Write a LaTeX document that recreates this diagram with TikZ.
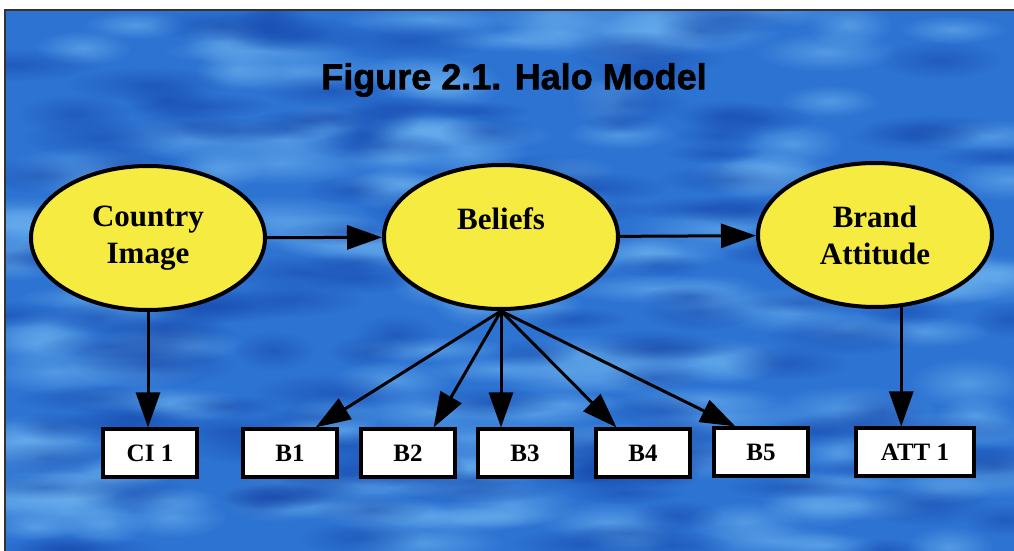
\documentclass[tikz,border=0pt]{standalone}
\usepackage{fontspec}
\setmainfont{Liberation Serif}
\newfontfamily\titlefont{Liberation Sans}[BoldFeatures={FakeBold=1.6}]
\usetikzlibrary{shapes.geometric,arrows.meta,fadings}
\definecolor{bgblue}{RGB}{45,115,210}
\definecolor{bglight}{RGB}{110,180,240}
\definecolor{bgdark}{RGB}{20,68,168}
\definecolor{haloyellow}{RGB}{245,235,65}
\tikzfading[name=softblob,inner color=transparent!0,outer color=transparent!100]
\begin{document}
\begin{tikzpicture}[x=0.5pt,y=-0.5pt,
    latent/.style={ellipse,draw=black,line width=2pt,fill=haloyellow,
      minimum width=117pt,minimum height=72pt,inner sep=0pt,align=center,
      font=\bfseries\fontsize{15.5}{18.5}\selectfont},
    indicator/.style={rectangle,draw=black,line width=1.6pt,fill=white,
      minimum width=47pt,minimum height=24pt,inner sep=0pt,
      font=\bfseries\fontsize{12.5}{14}\selectfont},
    path/.style={line width=1.5pt,-{Triangle[length=17.5pt,width=12pt]}},
    blob/.style={path fading=softblob}]
  \useasboundingbox (0,0) rectangle (1014,551);
  % background panel
  \fill[bgblue] (5,10) rectangle (1014,551);
  \begin{scope}
    \clip (5,10) rectangle (1014,551);
    \pgfmathsetseed{23}
    \foreach \i in {1,...,170} {
      \pgfmathsetmacro{\bx}{5+1009*rnd}
      \pgfmathsetmacro{\by}{10+541*rnd}
      \pgfmathsetmacro{\rx}{40+60*rnd}
      \pgfmathsetmacro{\ry}{12+14*rnd}
      \fill[bglight,opacity=0.6,blob] (\bx,\by) ellipse [x radius=\rx,y radius=\ry];
    }
    \foreach \i in {1,...,140} {
      \pgfmathsetmacro{\bx}{5+1009*rnd}
      \pgfmathsetmacro{\by}{10+541*rnd}
      \pgfmathsetmacro{\rx}{35+50*rnd}
      \pgfmathsetmacro{\ry}{10+12*rnd}
      \fill[bgdark,opacity=0.5,blob] (\bx,\by) ellipse [x radius=\rx,y radius=\ry];
    }
  \end{scope}
  \draw[line width=1pt,black!80] (5,551) -- (5,10) -- (1014,10);
  % title
  \node[font=\titlefont\bfseries\fontsize{18}{20}\selectfont] (title) at (514,80) {Figure 2.1. Halo Model};
  % latent variables
  \node[latent] (ci) at (148,238) {Country\\Image};
  \node[latent] (bel) at (501,237) {Beliefs\\\mbox{}};
  \node[latent] (att) at (875,235) {Brand\\Attitude};
  % indicators
  \node[indicator] (ci1) at (150,453) {CI 1};
  \node[indicator] (b1) at (290,453) {B1};
  \node[indicator] (b2) at (408,453) {B2};
  \node[indicator] (b3) at (525,453) {B3};
  \node[indicator] (b4) at (643,453) {B4};
  \node[indicator] (b5) at (761,452) {B5};
  \node[indicator,minimum width=59pt] (att1) at (915,452) {ATT 1};
  % structural paths
  \draw[path] (ci) -- (bel);
  \draw[path] (bel) -- (att);
  % measurement paths
  \draw[path] (ci.south) -- (ci.south |- ci1.north);
  \draw[path] (bel.south) -- (b1.45);
  \draw[path] (bel.south) -- (b2.45);
  \draw[path] (bel.south) -- (bel.south |- b3.north);
  \draw[path] (bel.south) -- (b4.136);
  \draw[path] (bel.south) -- (b5.135);
  \draw[path] (att.-70) -- (att.-70 |- att1.north);
\end{tikzpicture}
\end{document}
